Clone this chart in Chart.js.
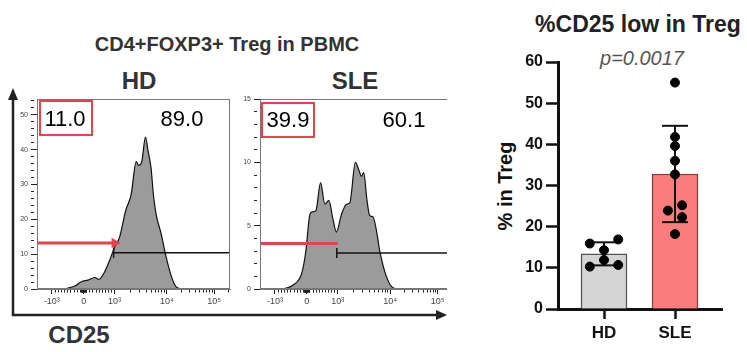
<!DOCTYPE html>
<html>
<head>
<meta charset="utf-8">
<script src="https://cdn.jsdelivr.net/npm/chart.js@4.4.1/dist/chart.umd.min.js"></script>
<style>
  body { margin: 0; background: #fff; font-family: "Liberation Sans", Arial, sans-serif; }
  #fig { position: relative; width: 747px; height: 352px; overflow: hidden; }
  .pane { position: absolute; }
  .txt { position: absolute; transform: translate(-50%, -50%); white-space: nowrap; line-height: 1; }
  .gate { position: absolute; border: 2.5px solid #e8434a; box-sizing: border-box; }
</style>
</head>
<body>
<div id="fig">
  <svg class="pane" style="left:0;top:0" width="747" height="352">
    <path d="M13 98 L13 315 L438 315" fill="none" stroke="#222" stroke-width="2.5"/>
    <polygon points="13,88 8,100 18,100" fill="#222"/>
    <polygon points="447,315 436,310 436,320" fill="#222"/>
  </svg>

  <div class="txt" style="left:227px;top:44px;font-size:20px;font-weight:bold;color:#333">CD4+FOXP3+ Treg in PBMC</div>
  <div class="txt" style="left:139px;top:81px;font-size:24px;font-weight:bold;color:#333">HD</div>
  <div class="txt" style="left:355px;top:81px;font-size:24px;font-weight:bold;color:#333">SLE</div>
  <div class="txt" style="left:79px;top:335px;font-size:24px;font-weight:bold;color:#333">CD25</div>

  <div class="pane" style="left:15px;top:92px;width:222px;height:223px"><canvas id="hd"></canvas></div>
  <div class="pane" style="left:238px;top:92px;width:209px;height:223px;overflow:hidden">
    <div style="position:relative;width:222px;height:223px"><canvas id="sle"></canvas></div>
  </div>

  <div class="gate" style="left:39px;top:100px;width:54px;height:36px"></div>
  <div class="txt" style="left:65px;top:119px;font-size:22px">11.0</div>
  <div class="txt" style="left:182px;top:119px;font-size:22px">89.0</div>
  <div class="gate" style="left:261px;top:102px;width:54px;height:36px"></div>
  <div class="txt" style="left:288px;top:120px;font-size:22px">39.9</div>
  <div class="txt" style="left:404px;top:120px;font-size:22px">60.1</div>

  <div class="txt" style="left:638px;top:24px;font-size:23px;font-weight:bold;color:#222">%CD25 low in Treg</div>
  <div class="txt" style="left:642px;top:58px;font-size:20px;font-style:italic;color:#555">p=0.0017</div>
  <div class="txt" style="left:505px;top:186px;font-size:20px;font-weight:bold;color:#111;transform:translate(-50%,-50%) rotate(-90deg)">% in Treg</div>

  <div class="pane" style="left:470px;top:0;width:277px;height:352px"><canvas id="bars"></canvas></div>
</div>

<script>
// CD25 axis (biexponential display, 0-100 display units)
const cd25TickUnits = [7.7, 24.2, 40.2, 67.3, 91.8];
const cd25TickLabels = ['-10³', '0', '10³', '10⁴', '10⁵'];

// HD histogram (display units, count)
const hdX = [14.4, 19.6, 23, 26.4, 29.9, 32.1, 35, 37.6, 40.2, 42.8, 45.9, 48.8, 51.4, 52.7, 54.3, 56.2, 57.6, 59.1, 60.3, 61.7, 64.3, 66.9, 69.4, 72, 74.6];
const hdY = [0, 0.85, 2.1, 2.55, 3.3, 2.75, 4.9, 8.2, 12.0, 14.9, 22.4, 27.2, 36.6, 35.5, 36.6, 43.6, 39.5, 34.7, 27.2, 21.5, 15.9, 9.2, 4.0, 0.65, 0];
const hdGateY = [13.2, 10.4];   // red (low) gate, black (high) gate

// SLE histogram
const sleX = [11.9, 17, 21.6, 23.7, 25.8, 27.1, 28.9, 31.3, 33.5, 35.6, 37.6, 39.5, 42.1, 44.7, 46.4, 49.3, 51.3, 52.4, 53.6, 55.3, 56.7, 58.4, 60.2, 61.9, 65.3, 68.7, 72.2];
const sleY = [0, 0.3, 1.25, 3.0, 5.9, 6.1, 6.2, 8.4, 6.7, 7.0, 5.6, 4.5, 5.9, 6.7, 6.8, 10.0, 9.3, 8.9, 9.2, 7.0, 5.8, 5.7, 4.6, 3.0, 1.0, 0.1, 0];
const sleGateY = [3.6, 2.85];
const gateSplit = 40.2;

// bar chart
const categories = ['HD', 'SLE'];
const barMeans = [13.4, 32.8];
const barSD = [2.8, 11.7];
const hdPoints = [15.9, 16.9, 14.3, 11.9, 10.3, 10.7];
const slePoints = [55.0, 41.8, 39.6, 36.0, 32.7, 25.2, 23.9, 22.3, 18.2];

// dot spread inside each bar
const hdSpread = [-0.2, 0.2, 0, 0, -0.2, 0.2];
const sleSpread = [0, 0, 0, 0, 0, 0.1, -0.1, 0.1, 0];

Chart.defaults.font.family = '"Liberation Sans", Arial, sans-serif';

const framePlugin = {
  id: 'frame',
  afterDatasetsDraw(chart, args, opts) {
    const a = chart.chartArea, ctx = chart.ctx;
    ctx.save();
    ctx.strokeStyle = opts.color || '#666';
    ctx.lineWidth = 1;
    ctx.strokeRect(Math.round(a.left) + 0.5, Math.round(a.top) + 0.5, Math.round(a.width) - 1, Math.round(a.height) - 1);
    ctx.restore();
  }
};

// minor ticks of the CD25 axis
function cd25Minor() {
  const out = [];
  for (let k = 1; k < 10; k++) {
    out.push(cd25TickUnits[1] + k * 1.6);          // 100..900
    out.push(cd25TickUnits[1] - k * 1.65);         // -100..-900
    out.push(cd25TickUnits[1] + k * 0.15);         // near zero
    out.push(cd25TickUnits[1] - k * 0.15);
  }
  for (let k = 2; k < 10; k++) {
    out.push(cd25TickUnits[2] + Math.log10(k) * (cd25TickUnits[3] - cd25TickUnits[2]));
    out.push(cd25TickUnits[3] + Math.log10(k) * (cd25TickUnits[4] - cd25TickUnits[3]));
  }
  out.push(cd25TickUnits[4] + Math.log10(2) * (cd25TickUnits[4] - cd25TickUnits[3]));
  return out.filter(v => v > 0 && v < 100);
}

function histogram(id, xs, ys, yMax, yStep, yMajor, gateY, arrow) {
  const xTicks = cd25TickUnits.concat(cd25Minor()).sort((a, b) => a - b);
  const yTicks = [];
  for (let v = 0; v <= yMax + 1e-9; v += yStep) yTicks.push(Math.round(v * 100) / 100);
  return new Chart(document.getElementById(id), {
    type: 'line',
    data: {
      datasets: [
        {
          data: [{x: 0, y: gateY[0]}, {x: gateSplit, y: gateY[0]}],
          borderColor: '#e8434a', borderWidth: 3,
          pointRadius: ctx => (arrow && ctx.dataIndex === 1 ? 3 : 0),
          pointStyle: 'triangle', rotation: 90,
          pointBackgroundColor: '#e8434a', pointBorderColor: '#e8434a'
        },
        {
          data: [{x: gateSplit - 0.5, y: gateY[1]}, {x: 100, y: gateY[1]}],
          borderColor: '#111', borderWidth: 1.5,
          pointStyle: 'line', rotation: 90, pointRadius: 5,
          pointBorderColor: '#111', pointBorderWidth: 1.5
        },
        {
          data: xs.map((x, i) => ({x: x, y: ys[i]})),
          borderColor: '#111', borderWidth: 1.2,
          backgroundColor: '#9b9b9b', fill: 'origin',
          pointRadius: 0, cubicInterpolationMode: 'monotone'
        }
      ]
    },
    options: {
      responsive: true, maintainAspectRatio: false, animation: false,
      layout: {padding: {top: 5, right: 6, left: 0, bottom: 0}},
      plugins: {legend: {display: false}, tooltip: {enabled: false}, frame: {color: '#777'}},
      scales: {
        x: {
          type: 'linear', min: 0, max: 100,
          afterFit: s => { s.height = 26; },
          afterBuildTicks: s => { s.ticks = xTicks.map(v => ({value: v})); },
          ticks: {
            autoSkip: false, maxRotation: 0, padding: 2, color: '#444', font: {size: 9},
            callback: v => { const i = cd25TickUnits.indexOf(v); return i >= 0 ? cd25TickLabels[i] : ''; }
          },
          grid: {
            drawOnChartArea: false, tickLength: 5, tickColor: '#222', tickWidth: 1,
            tickBorderDash: c => (cd25TickUnits.indexOf(c.tick && c.tick.value) >= 0 ? [] : [2.5, 20])
          },
          border: {color: '#777', width: 1}
        },
        y: {
          min: 0, max: yMax,
          afterFit: s => { s.width = 22; },
          afterBuildTicks: s => { s.ticks = yTicks.map(v => ({value: v})); },
          ticks: {
            autoSkip: false, padding: 3, color: '#444', font: {size: 7},
            callback: v => (Math.abs(v / yMajor - Math.round(v / yMajor)) < 1e-6 ? String(v) : '')
          },
          grid: {
            drawOnChartArea: false, tickLength: 6, tickColor: '#222', tickWidth: 1,
            tickBorderDash: c => (c.tick && Math.abs(c.tick.value / yMajor - Math.round(c.tick.value / yMajor)) < 1e-6 ? [] : [3, 20])
          },
          border: {color: '#777', width: 1}
        }
      }
    },
    plugins: [framePlugin]
  });
}

histogram('hd', hdX, hdY, 54.5, 2, 10, hdGateY, true);
histogram('sle', sleX, sleY, 15, 1, 5, sleGateY, false);

// bar chart with SD and individual donors
const dots = hdPoints.map((v, j) => ({x: 0 + hdSpread[j], y: v}))
  .concat(slePoints.map((v, j) => ({x: 1 + sleSpread[j], y: v})));

const errorBars = categories.map((c, i) => ({
  type: 'line',
  data: [{x: i, y: barMeans[i] - barSD[i]}, {x: i, y: barMeans[i] + barSD[i]}],
  borderColor: '#111', borderWidth: 2,
  pointStyle: 'line', pointRadius: 13, pointBorderWidth: 2, pointBorderColor: '#111',
  order: 1
}));

new Chart(document.getElementById('bars'), {
  type: 'bar',
  data: {
    datasets: [
      {
        type: 'scatter', data: dots,
        pointRadius: 4.5, pointBackgroundColor: '#000', pointBorderColor: '#000', order: 0
      },
      ...errorBars,
      {
        type: 'bar',
        data: categories.map((c, i) => ({x: i, y: barMeans[i]})),
        backgroundColor: ['#d4d4d4', '#fb7c7c'],
        borderColor: ['#555', '#8a3b3b'],
        borderWidth: 1.5, barThickness: 46, order: 2
      }
    ]
  },
  options: {
    responsive: true, maintainAspectRatio: false, animation: false,
    layout: {padding: {top: 62, right: 25, left: 0, bottom: 0}},
    plugins: {legend: {display: false}, tooltip: {enabled: false}},
    scales: {
      x: {
        type: 'linear', min: -0.648, max: 1.662, offset: false,
        afterFit: s => { s.height = 43; },
        afterBuildTicks: s => { s.ticks = categories.map((c, i) => ({value: i})); },
        ticks: {
          autoSkip: false, maxRotation: 0, padding: 4, color: '#111',
          font: {size: 17, weight: 'bold'},
          callback: v => categories[v]
        },
        grid: {drawOnChartArea: false, offset: false, tickLength: 10, tickWidth: 2.5, tickColor: '#111'},
        border: {color: '#111', width: 3}
      },
      y: {
        min: 0, max: 60,
        afterFit: s => { s.width = 88; },
        ticks: {stepSize: 10, padding: 3, color: '#111', font: {size: 16, weight: 'bold'}},
        grid: {drawOnChartArea: false, tickLength: 12, tickWidth: 2.5, tickColor: '#111'},
        border: {color: '#111', width: 3}
      }
    }
  }
});
</script>
</body>
</html>
